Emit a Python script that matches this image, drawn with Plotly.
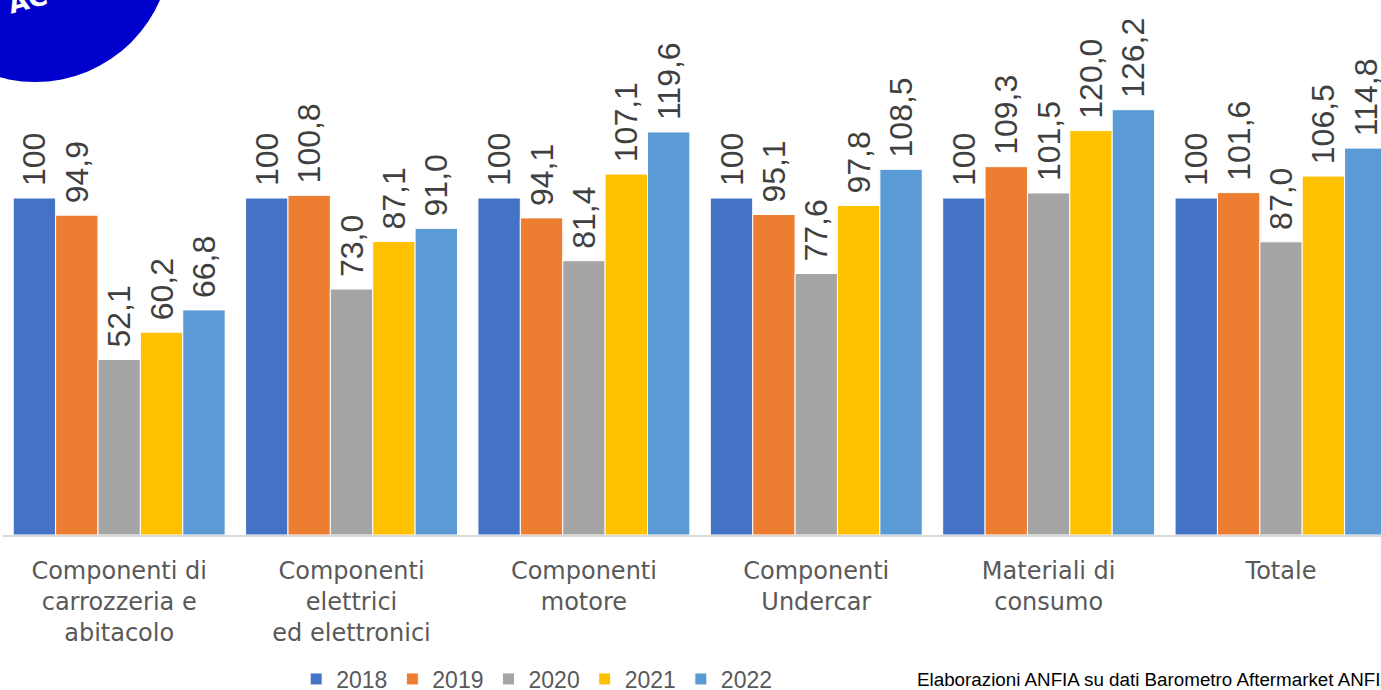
import plotly.graph_objects as go

categories = [
    "Componenti di<br>carrozzeria e<br>abitacolo",
    "Componenti<br>elettrici<br>ed elettronici",
    "Componenti<br>motore",
    "Componenti<br>Undercar",
    "Materiali di<br>consumo",
    "Totale",
]
years = ["2018", "2019", "2020", "2021", "2022"]
v2018 = [100, 100, 100, 100, 100, 100]
v2019 = [94.9, 100.8, 94.1, 95.1, 109.3, 101.6]
v2020 = [52.1, 73.0, 81.4, 77.6, 101.5, 87.0]
v2021 = [60.2, 87.1, 107.1, 97.8, 120.0, 106.5]
v2022 = [66.8, 91.0, 119.6, 108.5, 126.2, 114.8]
series = [v2018, v2019, v2020, v2021, v2022]
colors = ["#4472C4", "#ED7D31", "#A5A5A5", "#FFC000", "#5B9BD5"]
source_text = "Elaborazioni ANFIA su dati Barometro Aftermarket ANFIA"

SANS = "Liberation Sans, Arial, sans-serif"

fig = go.Figure()
for i, (yr, vals, col) in enumerate(zip(years, series, colors)):
    tmpl = "\u00a0%{y:.0f}" if i == 0 else "\u00a0%{y:.1f}"
    fig.add_trace(go.Bar(
        name=yr, x=categories, y=vals,
        marker=dict(color=col, line=dict(color="white", width=1)),
        texttemplate=tmpl, textposition="outside", textangle=-90,
        textfont=dict(family=SANS, size=32, color="#404040"),
        constraintext="none", cliponaxis=True,
    ))

W, H = 1381, 690
ml, mt, mb = 2.8, 0, 155
pw, ph = W - ml, H - mt - mb

def px(x):
    return (x - ml) / pw

def py(y):
    return (H - mb - y) / ph

fig.update_layout(
    width=W, height=H,
    margin=dict(l=ml, r=0, t=mt, b=mb, pad=0, autoexpand=False),
    paper_bgcolor="white", plot_bgcolor="white",
    barmode="group", bargap=0.088, bargroupgap=0.0,
    separators=",.",
    showlegend=True,
    legend=dict(
        orientation="h", x=px(296), xanchor="left", y=py(679), yanchor="middle",
        font=dict(family=SANS, size=23, color="#595959"),
        bgcolor="rgba(0,0,0,0)", borderwidth=0,
        traceorder="normal",
    ),
    xaxis=dict(
        range=[-0.5, -0.5 + pw / 232.4],
        showgrid=False, zeroline=False, automargin=False,
        showline=True, linecolor="#D9D9D9", linewidth=2,
        ticks="outside", ticklen=13, tickcolor="rgba(0,0,0,0)",
        tickfont=dict(family="DejaVu Sans", size=24, color="#595959"),
        fixedrange=True,
    ),
    yaxis=dict(
        range=[0, 535 / 3.37], visible=False, showgrid=False, zeroline=False,
        fixedrange=True, automargin=False,
    ),
    shapes=[dict(
        type="circle", xref="paper", yref="paper",
        x0=px(-101), x1=px(171), y0=py(82), y1=py(-190),
        fillcolor="#0000CC", line=dict(width=0), layer="above",
    )],
    annotations=[
        dict(text="<b>AC</b>", xref="paper", yref="paper", x=px(27), y=py(0),
             xanchor="center", yanchor="middle", showarrow=False, textangle=-15,
             font=dict(family="DejaVu Sans", size=26, color="white")),
        dict(text=source_text, xref="paper", yref="paper", x=px(915), y=py(679),
             xanchor="left", yanchor="middle", showarrow=False,
             font=dict(family=SANS, size=18.8, color="#000000")),
    ],
)

fig.write_html("out.html", config={"displayModeBar": False},
               post_script="document.body.style.margin='0';document.body.style.overflow='hidden';")
